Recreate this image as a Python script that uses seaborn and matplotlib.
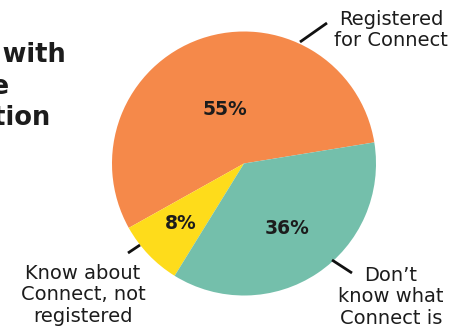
import matplotlib
matplotlib.use("Agg")
import matplotlib.pyplot as plt
import seaborn as sns
import numpy as np

# ---- data ----
categories = ["Registered for Connect", "Know about Connect, not registered", "Don\u2019t know what Connect is"]
label_lines = ["Registered\nfor Connect", "Know about\nConnect, not\nregistered", "Don\u2019t\nknow what\nConnect is"]
values = [55, 8, 36]
pct_labels = ["55%", "8%", "36%"]
title_lines = ["Awareness and registered with", "the", "Connect information"]

colors = ["#F5894A", "#FEDC1B", "#74BFAB"]

sns.set_theme(style="white")
plt.rcParams['font.family'] = ['DejaVu Sans']

W, H = 469, 328
fig = plt.figure(figsize=(W / 100, H / 100), dpi=100)
ax = fig.add_axes([0, 0, 1, 1])

cx, cy, R = 244, H - 163.5, 132
wedges, _ = ax.pie(values, colors=colors, startangle=9.2, counterclock=True,
                   center=(cx, cy), radius=R, frame=True,
                   wedgeprops=dict(linewidth=0))
ax.set_xlim(0, W)
ax.set_ylim(0, H)
ax.set_aspect('auto')
for s in ax.spines.values():
    s.set_visible(False)
ax.set_xticks([]); ax.set_yticks([])

txt = "#1c1c1c"
# percentage labels
dists = [0.43, 0.66, 0.59]
for w, lab, d in zip(wedges, pct_labels, dists):
    ang = np.deg2rad((w.theta1 + w.theta2) / 2)
    ax.text(cx + d * R * np.cos(ang), cy + d * R * np.sin(ang), lab,
            ha='center', va='center', fontsize=13.5, fontweight='bold', color=txt)

# category labels with leader lines
lab_pos = [(391, 30), (83, 295), (391, 297)]
leaders = [((300, 42), (327, 23)), ((128, 253), (140, 245)), ((332, 260), (352, 273))]
for (x, y), text, ((x1, y1), (x2, y2)) in zip(lab_pos, label_lines, leaders):
    ax.text(x, H - y, text, ha='center', va='center', fontsize=14, color=txt,
            linespacing=1.15)
    ax.plot([x1, x2], [H - y1, H - y2], color="#111111", lw=2, solid_capstyle='butt')

# title (partly cut off at the left edge)
title_right = [66, 10, 50]
title_y = [55, 87, 118]
for line, xr, y in zip(title_lines, title_right, title_y):
    ax.text(xr, H - y, line, ha='right', va='center', fontsize=18.5,
            fontweight='bold', color=txt)

fig.savefig("out.png", dpi=100)
